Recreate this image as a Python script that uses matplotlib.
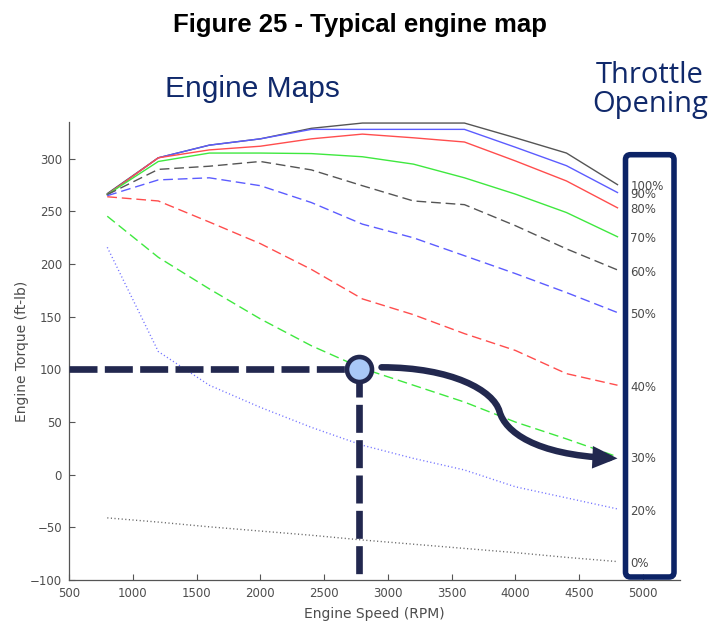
import matplotlib
matplotlib.use('Agg')
import matplotlib.pyplot as plt
from matplotlib.patches import FancyBboxPatch, FancyArrowPatch
from matplotlib.path import Path

plt.rcParams['font.family'] = 'DejaVu Sans'
plt.rcParams['font.size'] = 8.5

# engine speed breakpoints (RPM)
rpm = [800, 1200, 1600, 2000, 2400, 2800, 3200, 3600, 4000, 4400, 4800]

# torque (ft-lb) per throttle opening
tq_100 = [267, 301, 313, 319, 329, 334, 334, 334, 320, 305.5, 275.5]
tq_90 = [266, 301, 313, 319, 328, 328, 328, 328, 311, 293.5, 268]
tq_80 = [266, 301, 308.5, 312, 319, 323.5, 320, 316, 298, 279, 253.5]
tq_70 = [266, 297.5, 305.5, 305.5, 305, 302, 295, 282, 266.5, 249, 226]
tq_60 = [266, 290, 293, 297.5, 289.5, 274.5, 260, 256.5, 236.5, 214.5, 194.5]
tq_50 = [265, 280, 282, 274.5, 258.5, 238, 225, 208, 191, 173, 154]
tq_40 = [264, 260, 240, 219.5, 195, 167, 152, 134, 118, 96, 85]
tq_30 = [245.5, 206.5, 176.5, 148, 122.5, 101, 85, 69, 50, 34, 17]
tq_20 = [216, 117, 85, 64, 45, 28, 15.5, 4.5, -11.5, -22, -32.5]
tq_0 = [-41, -45, -49.5, -53.5, -57.5, -62, -66, -70, -74, -78.5, -82.5]

throttle = ['100%', '90%', '80%', '70%', '60%', '50%', '40%', '30%', '20%', '0%']
curves = [tq_100, tq_90, tq_80, tq_70, tq_60, tq_50, tq_40, tq_30, tq_20, tq_0]

# operating point picked off the map
op_speed, op_torque = 2770, 100

navy = '#22284f'
k, b, r, g = '#555555', '#5c5cff', '#ff4d4d', '#3fe83f'
styles = [(k, '-'), (b, '-'), (r, '-'), (g, '-'),
          (k, '--'), (b, '--'), (r, '--'), (g, '--'),
          ('#7373ff', ':'), ('#666666', ':')]

fig = plt.figure(figsize=(7.08, 6.23), dpi=100)
ax = fig.add_axes([69/708, 43/623, 611/708, 458/623])

for tq, (c, ls), lab in zip(curves, styles, throttle):
    line, = ax.plot(rpm, tq, color=c, lw=1.0, ls=ls)
    if ls == '--':
        line.set_dashes((7, 3.5))
    elif ls == ':':
        line.set_dashes((0.8, 1.8))
    ax.text(4900, tq[-1] - 2, lab, ha='left', va='center', fontsize=8.5,
            color='#4a4a4a', zorder=7)

# guide lines to the operating point
ax.plot([500, op_speed], [op_torque, op_torque], color=navy, lw=4.8,
        dashes=(4.2, 1.1), solid_capstyle='butt', zorder=4)
ax.plot([op_speed, op_speed], [op_torque, -100], color=navy, lw=4.8,
        dashes=(4.2, 1.1), solid_capstyle='butt', zorder=4)
ax.plot(op_speed, op_torque, 'o', ms=18, mfc='#a9c8f7', mec=navy, mew=3.3,
        zorder=6, clip_on=False)

# curved arrow onto the 30% curve
verts = [(2950, 102), (3500, 102), (3830, 80), (3875, 60),
         (3920, 41), (4150, 19), (4800, 15.5)]
codes = [Path.MOVETO] + [Path.CURVE4] * 6
arrow = FancyArrowPatch(path=Path(verts, codes),
                        arrowstyle='-|>,head_length=1.0,head_width=0.45',
                        mutation_scale=10, lw=4.7, color=navy,
                        joinstyle='miter', zorder=5, clip_on=False)
ax.add_patch(arrow)

ax.set_xlim(500, 5290)
ax.set_ylim(-100, 335)
ax.set_xticks(range(500, 5001, 500))
ax.set_yticks(range(-100, 301, 50))
ax.tick_params(direction='in', length=4, width=0.8, colors='#555555',
               labelcolor='#4d4d4d', pad=5)
for s in ['top', 'right']:
    ax.spines[s].set_visible(False)
for s in ['left', 'bottom']:
    ax.spines[s].set_color('#555555')
    ax.spines[s].set_linewidth(0.9)
ax.set_xlabel('Engine Speed (RPM)', fontsize=10, color='#4d4d4d', labelpad=5)
ax.set_ylabel('Engine Torque (ft-lb)', fontsize=10, color='#4d4d4d', labelpad=1)

# frame round the throttle labels
box = FancyBboxPatch((6.255, 0.46), 0.485, 4.223,
                     boxstyle='round,pad=0,rounding_size=0.05',
                     transform=fig.dpi_scale_trans, fill=False,
                     ec='#0c2366', lw=4.0, zorder=8)
fig.add_artist(box)

fig.text(0.5085, 0.948, 'Figure 25 - Typical engine map', ha='center',
         va='baseline', fontsize=18.5, fontweight='bold',
         family='Liberation Sans', color='black')
fig.text(165/708, 1 - 96.7/623, 'Engine Maps', ha='left', va='baseline',
         fontsize=21.5, family='Liberation Sans', color='#10296b')
fig.text(650/708, 1 - 83/623, 'Throttle', ha='center', va='baseline',
         fontsize=21, family='Open Sans', color='#10296b')
fig.text(650/708, 1 - 111.7/623, 'Opening', ha='center', va='baseline',
         fontsize=21, family='Open Sans', color='#10296b')

fig.savefig('out.png', dpi=100)
